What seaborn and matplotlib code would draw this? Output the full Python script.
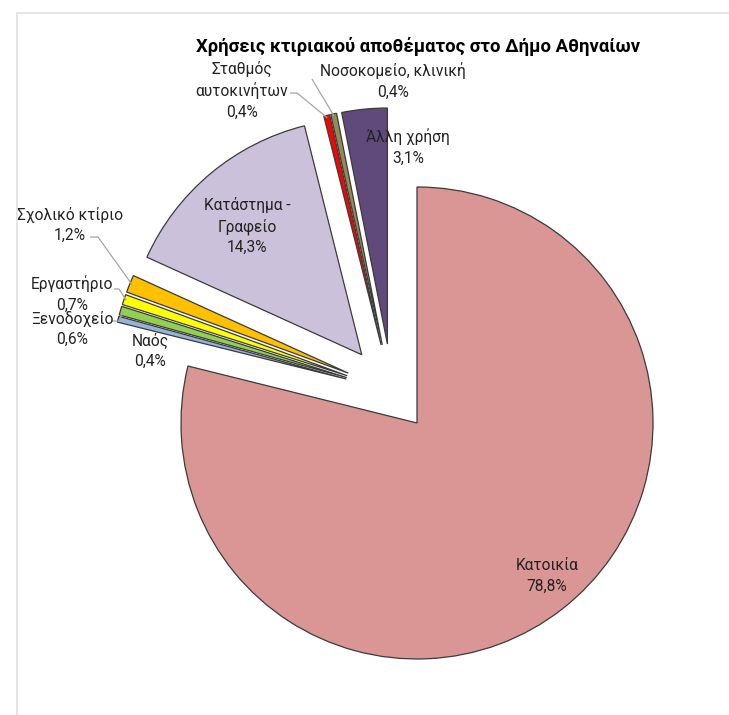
import matplotlib
matplotlib.use("Agg")
import matplotlib.pyplot as plt
import seaborn as sns
import numpy as np
from matplotlib.patches import Rectangle

# Building stock uses, Municipality of Athens (%)
categories = ["Κατοικία", "Ναός", "Ξενοδοχείο", "Εργαστήριο", "Σχολικό κτίριο",
              "Κατάστημα - Γραφείο", "Σταθμός αυτοκινήτων", "Νοσοκομείο, κλινική",
              "Άλλη χρήση"]
shares = [78.8, 0.4, 0.6, 0.7, 1.2, 14.3, 0.4, 0.4, 3.1]
label_names = ["Κατοικία", "Ναός", "Ξενοδοχείο", "Εργαστήριο", "Σχολικό κτίριο",
               "Κατάστημα -\nΓραφείο", "Σταθμός\nαυτοκινήτων", "Νοσοκομείο, κλινική",
               "Άλλη χρήση"]
colors = ["#D99694", "#95B3D7", "#92D050", "#FFFF00", "#FFC000",
          "#CCC1DA", "#FF0000", "#948A54", "#604A7B"]
title = "Χρήσεις κτιριακού αποθέματος στο Δήμο Αθηναίων"

sns.set_theme(style="white")
plt.rcParams["font.family"] = ["Roboto", "DejaVu Sans"]

W, H = 729, 715
fig = plt.figure(figsize=(W / 100, H / 100), dpi=100)
ax = fig.add_axes([0, 0, 1, 1])

R = 236.0              # pixels per data unit (pie radius)
cx, cy = 392.0, 391.0  # pie centre in pixels (from top-left)

explode = [0.172] + [0.2] * (len(shares) - 1)
wedges, _ = ax.pie(shares, colors=colors, explode=explode, startangle=90,
                   counterclock=False, radius=1,
                   wedgeprops=dict(edgecolor="#3b3b3b", linewidth=0.9))
ax.set_xlim(-cx / R, (W - cx) / R)
ax.set_ylim(-(H - cy) / R, cy / R)
ax.axis("off")


def to_data(px, py):
    return (px - cx) / R, (cy - py) / R


def outer_mid(w, inset=0.0):
    ang = np.deg2rad((w.theta1 + w.theta2) / 2)
    r = w.r - inset
    return w.center[0] + r * np.cos(ang), w.center[1] + r * np.sin(ang)


# label centres in pixels
label_pos = {
    "Κατοικία": (547, 576),
    "Ναός": (150, 351),
    "Ξενοδοχείο": (72, 329),
    "Εργαστήριο": (72, 294),
    "Σχολικό κτίριο": (70, 225),
    "Κατάστημα - Γραφείο": (247, 226),
    "Σταθμός αυτοκινήτων": (242, 90),
    "Νοσοκομείο, κλινική": (393, 81),
    "Άλλη χρήση": (408, 147),
}

txt_color = "#222222"
for cat, name, val in zip(categories, label_names, shares):
    px, py = label_pos[cat]
    x, y = to_data(px, py)
    s = f"{name}\n{val:.1f}%".replace(".", ",")
    ax.text(x, y, s, ha="center", va="center", fontsize=11.2, color=txt_color,
            linespacing=1.42)

# leader lines: label anchor, elbow, then the slice rim
leaders = {
    "Σχολικό κτίριο": [(90, 237), (98, 237)],
    "Εργαστήριο": [(114, 289), (119, 289)],
    "Ξενοδοχείο": [(112, 321), (119, 321)],
    "Σταθμός αυτοκινήτων": [(290, 93), (297, 93)],
    "Νοσοκομείο, κλινική": [(312, 79)],
}
for cat, pts in leaders.items():
    w = wedges[categories.index(cat)]
    xs, ys = zip(*[to_data(*p) for p in pts])
    ex, ey = outer_mid(w, inset=0.01)
    ax.plot(list(xs) + [ex], list(ys) + [ey], color="#A6A6A6", lw=0.9,
            solid_capstyle="butt")

tx, ty = to_data(418, 47)
ax.text(tx, ty, title, ha="center", va="center", fontsize=13.3,
        fontweight="bold", color="black")

# chart area border
fig.patches.append(Rectangle((17 / W, -0.05), 1.2, 1.05 - 13 / H,
                             transform=fig.transFigure, fill=False,
                             edgecolor="#E0E0E0", linewidth=1.2))

fig.savefig("out.png", dpi=100)
